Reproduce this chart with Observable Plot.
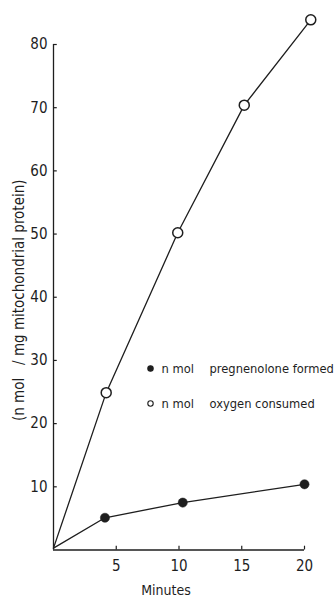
<!DOCTYPE html>
<html>
<head>
<meta charset="utf-8">
<script src="https://cdn.jsdelivr.net/npm/d3@7"></script>
<script src="https://cdn.jsdelivr.net/npm/@observablehq/plot@0.6"></script>
<style>
  html, body { margin: 0; padding: 0; background: #fff; }
  #chart svg { display: block; }
</style>
</head>
<body>
<div id="chart"></div>
<script>
// Data
const oxygenMinutes = [0, 4.2, 9.9, 15.2, 20.5];
const oxygenValues  = [0.3, 24.9, 50.2, 70.4, 83.9];
const pregMinutes   = [0, 4.1, 10.3, 20.0];
const pregValues    = [0.3, 5.1, 7.5, 10.4];
const xTicks = [5, 10, 15, 20];
const yTicks = [10, 20, 30, 40, 50, 60, 70, 80];
const xLabel = "Minutes";
const yLabel = "(n mol\u00a0\u00a0\u00a0/ mg mitochondrial protein)";
const legendUnits = ["n mol", "n mol"];
const legendNames = ["pregnenolone formed", "oxygen consumed"];
const legendFilled = [true, false];

const oxygen = oxygenMinutes.map((m, i) => ({m, v: oxygenValues[i]}));
const preg = pregMinutes.map((m, i) => ({m, v: pregValues[i]}));
const legend = legendNames.map((name, i) => ({name, unit: legendUnits[i], filled: legendFilled[i]}));

const ink = "#1e1e1e";
const font = "'Liberation Sans Narrow', 'DejaVu Sans Condensed', 'Roboto', sans-serif";

const legendMarks = legend.flatMap((d, i) => [
  Plot.dot([d], {frameAnchor: "top-left", dx: 97, dy: 324 + 35 * i, r: 2.7,
    fill: d.filled ? ink : "#fff", stroke: ink, strokeWidth: 1.1}),
  Plot.text([d.unit], {frameAnchor: "top-left", dx: 108, dy: 324 + 35 * i,
    textAnchor: "start", lineAnchor: "middle", fontSize: 12.8, fill: ink}),
  Plot.text([d.name], {frameAnchor: "top-left", dx: 156, dy: 324 + 35 * i,
    textAnchor: "start", lineAnchor: "middle", fontSize: 12.8, fill: ink})
]);

const chart = Plot.plot({
  width: 336,
  height: 597,
  marginLeft: 53,
  marginRight: 32,
  marginTop: 44,
  marginBottom: 47.5,
  x: {domain: [0, 20]},
  y: {domain: [0, 80]},
  style: {fontFamily: font, fontSize: "15px", background: "#fff", color: ink},
  marks: [
    // axis lines
    Plot.ruleX([0], {y1: 0, y2: 80, stroke: ink, strokeWidth: 1.3}),
    Plot.ruleY([0], {x1: 0, x2: 20, stroke: ink, strokeWidth: 1.3}),
    // inward tick marks
    Plot.ruleY(yTicks, {x1: 0, x2: 0.3, stroke: ink, strokeWidth: 1.2}),
    Plot.ruleX(xTicks, {y1: 0, y2: 0.6, stroke: ink, strokeWidth: 1.2}),
    // tick labels
    Plot.axisY(yTicks, {tickSize: 0, tickPadding: 6, label: null, fontSize: 15, fill: ink}),
    Plot.axisX(xTicks, {tickSize: 0, tickPadding: 10, label: null, fontSize: 15, fill: ink}),
    // axis titles
    Plot.text([xLabel], {frameAnchor: "bottom", dx: -13, dy: 41, fontSize: 14, fill: ink,
      textAnchor: "middle", lineAnchor: "middle"}),
    Plot.text([yLabel], {frameAnchor: "left", rotate: -90, dx: -34, dy: 3, fontSize: 15, fill: ink,
      textAnchor: "middle", lineAnchor: "middle"}),
    // series lines
    Plot.line(oxygen, {x: "m", y: "v", stroke: ink, strokeWidth: 1.3}),
    Plot.line(preg, {x: "m", y: "v", stroke: ink, strokeWidth: 1.3}),
    // markers
    Plot.dot(oxygen.filter(d => d.m > 0), {x: "m", y: "v", r: 5, fill: "#fff", stroke: ink, strokeWidth: 1.5}),
    Plot.dot(preg.filter(d => d.m > 0), {x: "m", y: "v", r: 4.6, fill: ink, stroke: ink, strokeWidth: 0.5}),
    // legend
    ...legendMarks
  ]
});
document.getElementById("chart").append(chart);
</script>
</body>
</html>
